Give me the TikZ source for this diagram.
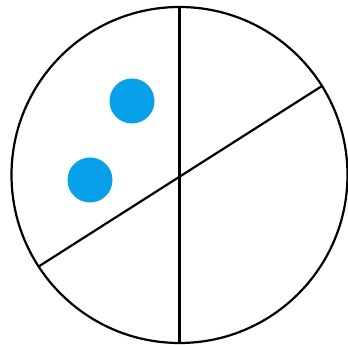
\documentclass[tikz,border=0pt]{standalone}
\definecolor{dotblue}{RGB}{8,160,232}
\begin{document}
\begin{tikzpicture}[x=1pt,y=1pt,
  rim/.style={draw=black,line width=2.2pt},
  divider/.style={draw=black,line width=2.2pt},
  dot/.style={circle,fill=dotblue,inner sep=0pt,minimum size=45pt}]
\useasboundingbox (0,0) rectangle (348,345);
\node[rim,circle,inner sep=0pt,minimum size=336pt] (disk) at (179.5,170) {};
\draw[divider] (disk.north) -- (disk.south);
\draw[divider] (disk.213.7) -- (disk.32.1);
\node[dot] (dotA) at (132,244) {};
\node[dot] (dotB) at (90,165) {};
\end{tikzpicture}
\end{document}
